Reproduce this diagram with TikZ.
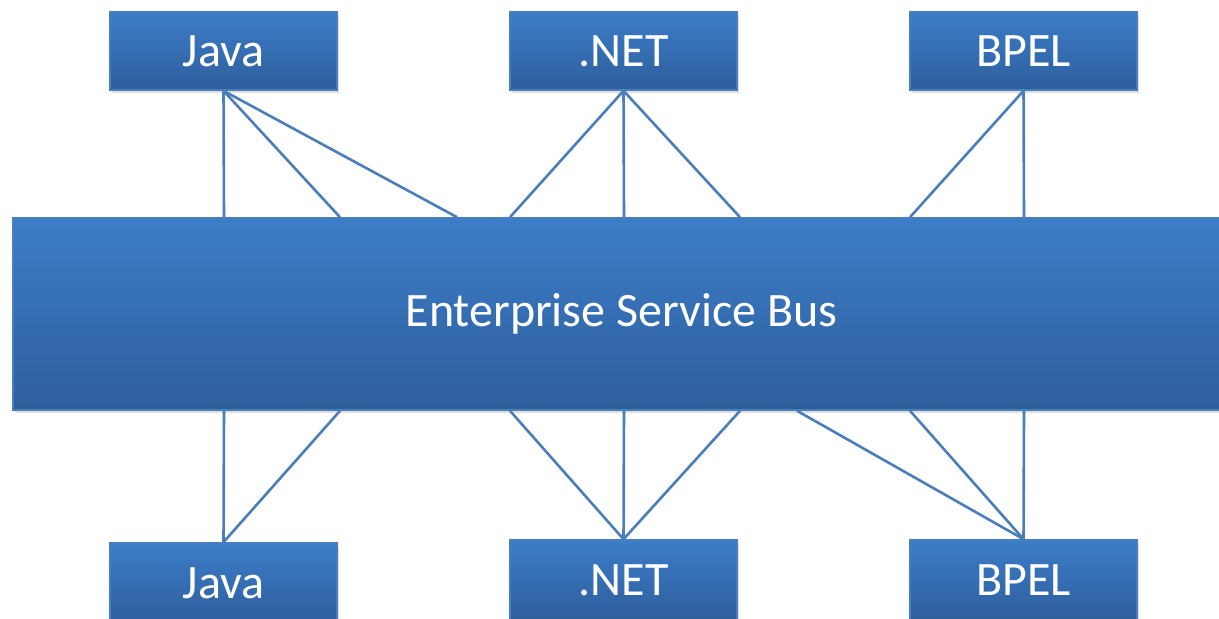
\documentclass[tikz,border=0pt]{standalone}
\usepackage{fontspec}
\setmainfont{Carlito}
\usetikzlibrary{shadows}

\definecolor{boxtop}{RGB}{60,125,201}
\definecolor{boxbottom}{RGB}{46,94,156}
\definecolor{boxedge}{RGB}{74,126,187}

\begin{document}
\begin{tikzpicture}[x=0.5pt, y=-0.5pt,
    system/.style={rectangle, draw=boxedge, line width=0.8pt, top color=boxtop, bottom color=boxbottom,
      text=white, font=\fontsize{24}{24}\selectfont, inner sep=0pt,
      drop shadow={shadow xshift=1.2pt, shadow yshift=-1.5pt, opacity=0.25}},
    link/.style={draw=boxedge, line width=1.3pt}]
      \newcommand\BOXW{113.5pt}
      \newcommand\BOXH{39pt}

      \useasboundingbox (0,0) rectangle (1219,619);

      % systems above the bus
      \node[system, minimum width=\BOXW, minimum height=\BOXH] (javaT) at (223.5,51) {Java};
      \node[system, minimum width=\BOXW, minimum height=\BOXH] (netT) at (623.5,51) {.NET};
      \node[system, minimum width=\BOXW, minimum height=\BOXH] (bpelT) at (1023.5,51) {BPEL};

      % the bus
      \node[system, minimum width=608.5pt, minimum height=96pt] (esb) at (621.5,314) {Enterprise Service Bus};

      % systems below the bus
      \node[system, minimum width=\BOXW, minimum height=40pt] (javaB) at (223.5,583) {Java};
      \node[system, minimum width=\BOXW, minimum height=40pt] (netB) at (623.5,580) {.NET};
      \node[system, minimum width=\BOXW, minimum height=40pt] (bpelB) at (1023.5,580) {BPEL};

      \foreach \x in {224,340,457} \draw[link] (javaT.south) -- (esb.north -| \x,0);
      \foreach \x in {510,624,740} \draw[link] (netT.south) -- (esb.north -| \x,0);
      \foreach \x in {910,1024} \draw[link] (bpelT.south) -- (esb.north -| \x,0);

      \foreach \x in {224,340} \draw[link] (esb.south -| \x,0) -- (javaB.north);
      \foreach \x in {510,624,740} \draw[link] (esb.south -| \x,0) -- (netB.north);
      \foreach \x in {797,910,1024} \draw[link] (esb.south -| \x,0) -- (bpelB.north);

    \end{tikzpicture}
\end{document}
